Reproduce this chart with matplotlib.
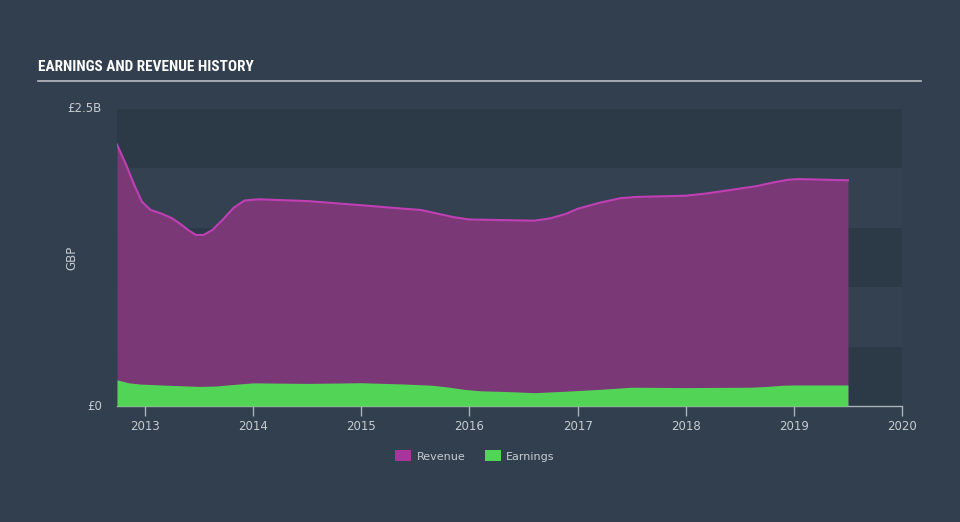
import matplotlib
matplotlib.use("Agg")
import matplotlib.pyplot as plt
from matplotlib.patches import Patch
from matplotlib import font_manager

# Data (decimal years, values in £B)
rev_t = [2012.74, 2012.82, 2012.90, 2012.97, 2013.05, 2013.15, 2013.25, 2013.33, 2013.40,
         2013.47, 2013.54, 2013.62, 2013.72, 2013.82, 2013.92, 2014.05, 2014.50, 2015.00,
         2015.40, 2015.55, 2015.70, 2015.85, 2016.00, 2016.30, 2016.60, 2016.75, 2016.90,
         2017.00, 2017.20, 2017.40, 2017.55, 2018.00, 2018.20, 2018.50, 2018.65, 2018.80,
         2018.95, 2019.05, 2019.50]
rev_v = [2.20, 2.04, 1.86, 1.72, 1.65, 1.62, 1.58, 1.53, 1.48,
         1.44, 1.44, 1.48, 1.57, 1.67, 1.73, 1.74, 1.725, 1.69,
         1.66, 1.65, 1.62, 1.59, 1.57, 1.565, 1.56, 1.58, 1.62,
         1.66, 1.71, 1.75, 1.76, 1.77, 1.79, 1.83, 1.85, 1.88,
         1.905, 1.91, 1.90]

earn_t = [2012.74, 2012.85, 2012.95, 2013.20, 2013.50, 2013.65, 2013.80, 2014.00, 2014.50,
          2015.00, 2015.40, 2015.65, 2015.80, 2015.95, 2016.10, 2016.40, 2016.60, 2016.90,
          2017.20, 2017.50, 2018.00, 2018.60, 2018.75, 2018.90, 2019.00, 2019.50]
earn_v = [0.22, 0.195, 0.185, 0.175, 0.165, 0.168, 0.18, 0.195, 0.19,
          0.196, 0.185, 0.175, 0.16, 0.14, 0.128, 0.12, 0.112, 0.125,
          0.14, 0.158, 0.155, 0.158, 0.165, 0.175, 0.177, 0.177]

year_ticks = [2013, 2014, 2015, 2016, 2017, 2018, 2019, 2020]
y_ticks = [0, 2.5]
y_tick_labels = ["£0", "£2.5B"]

BG = "#323f4e"
BAND_DARK = "#2c3947"
BAND_LIGHT = "#334151"
TXT = "#c8ccd0"
REV_FILL = "#7b3877"
REV_LINE = "#c13fb5"
EARN = "#52d457"

names = {f.name for f in font_manager.fontManager.ttflist}
title_family = [n for n in ["Liberation Sans Narrow", "DejaVu Sans Condensed", "Roboto Condensed", "DejaVu Sans"] if n in names]

fig = plt.figure(figsize=(9.6, 5.22), dpi=100, facecolor=BG)
ax = fig.add_axes([117/960, 1-406/522, (902-117)/960, (406-109)/522])
ax.set_facecolor(BAND_LIGHT)

xmin, xmax = 2012.74, 2020.0
ax.set_xlim(xmin, xmax)
ax.set_ylim(0, 2.5)

for i in range(5):
    c = BAND_DARK if i % 2 == 0 else BAND_LIGHT
    ax.axhspan(i*0.5, (i+1)*0.5, color=c, lw=0, zorder=0)

ax.fill_between(rev_t, 0, rev_v, color=REV_FILL, lw=0, zorder=2)
ax.plot(rev_t, rev_v, color=REV_LINE, lw=1.5, zorder=3, solid_joinstyle="round")
ax.fill_between(earn_t, 0, earn_v, color=EARN, lw=0, zorder=4)

for s in ["top", "right", "left"]:
    ax.spines[s].set_visible(False)
ax.spines["bottom"].set_color("#aab1b9")
ax.spines["bottom"].set_linewidth(1)

ax.set_xticks(year_ticks)
ax.set_xticklabels([str(y) for y in year_ticks])
ax.tick_params(axis="x", colors="#aab1b9", labelcolor=TXT, labelsize=8.5, length=7, width=1, pad=3)
ax.set_yticks(y_ticks)
ax.set_yticklabels(y_tick_labels)
ax.tick_params(axis="y", length=0, labelcolor=TXT, labelsize=8.5, pad=11)
for lbl in ax.get_yticklabels():
    lbl.set_verticalalignment("center")
ax.set_ylabel("GBP", color=TXT, fontsize=8.5)
ax.yaxis.set_label_coords((78-117)/785, 0.5)

# Title and underline
fig.text(38/960, 1-67/522, "EARNINGS AND REVENUE HISTORY", color="white",
         fontsize=11, fontweight="bold", family=title_family,
         va="center", ha="left")
fig.add_artist(plt.Line2D([38/960, 921/960], [1-81/522, 1-81/522], color="#b8bcc2", lw=1.2))

handles = [Patch(facecolor="#a8359c", edgecolor="none", label="Revenue"),
           Patch(facecolor=EARN, edgecolor="none", label="Earnings")]
leg = fig.legend(handles=handles, loc="center", bbox_to_anchor=(475/960, 1-456/522), ncol=2,
                 frameon=False, fontsize=8, handlelength=1.4, handleheight=1.1,
                 columnspacing=1.8, handletextpad=0.5)
for t in leg.get_texts():
    t.set_color(TXT)

fig.savefig("out.png", dpi=100, facecolor=BG)
